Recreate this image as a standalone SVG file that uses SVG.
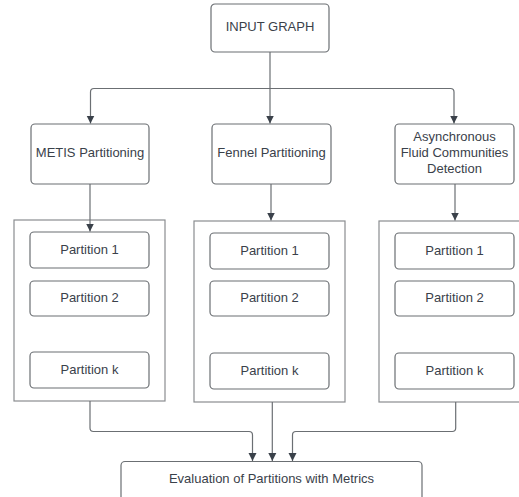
<svg xmlns="http://www.w3.org/2000/svg" width="519" height="497" viewBox="0 0 519 497">
<defs>
<style>
.box{fill:#fff;stroke:#6b6f73;stroke-width:1.2}
.cont{fill:#fff;stroke:#8a8d90;stroke-width:1.2}
.t{font-family:"Liberation Sans",Arial,sans-serif;font-size:13px;fill:#3a414a;text-anchor:middle;dominant-baseline:central}
.c{fill:none;stroke:#6b6f73;stroke-width:1.2}
</style>
<marker id="ah" viewBox="0 0 8 10" refX="8" refY="5" markerWidth="8" markerHeight="10" markerUnits="userSpaceOnUse" orient="auto">
<path d="M0,1 L8,5 L0,9 Z" fill="#3a414a"/>
</marker>
</defs>
<rect width="519" height="497" fill="#fff"/>
<g id="input">
<rect class="box" x="211" y="4" width="118" height="48" rx="4"/>
<text class="t" x="270" y="26">INPUT GRAPH</text>
</g>
<g id="metis">
<rect class="box" x="31" y="124" width="118" height="60" rx="4"/>
<text class="t" x="90" y="152">METIS Partitioning</text>
</g>
<g id="fennel">
<rect class="box" x="212" y="124" width="119" height="60" rx="4"/>
<text class="t" x="271.5" y="152">Fennel Partitioning</text>
</g>
<g id="async">
<rect class="box" x="395" y="124" width="119" height="60" rx="4"/>
<text class="t" x="454.5" y="136.5">Asynchronous</text>
<text class="t" x="454.5" y="152.5">Fluid Communities</text>
<text class="t" x="454.5" y="168.5">Detection</text>
</g>
<g id="metis-parts">
<rect class="cont" x="14" y="220" width="151" height="181"/>
<rect class="box" x="30" y="232" width="119" height="36" rx="4"/>
<text class="t" x="89.5" y="249">Partition 1</text>
<rect class="box" x="30" y="281" width="119" height="35" rx="4"/>
<text class="t" x="89.5" y="297">Partition 2</text>
<rect class="box" x="30" y="352" width="119" height="36" rx="4"/>
<text class="t" x="89.5" y="369">Partition k</text>
</g>
<g id="fennel-parts">
<rect class="cont" x="194" y="221" width="151" height="181"/>
<rect class="box" x="210" y="233" width="119" height="36" rx="4"/>
<text class="t" x="269.5" y="250">Partition 1</text>
<rect class="box" x="210" y="281" width="119" height="35" rx="4"/>
<text class="t" x="269.5" y="297.5">Partition 2</text>
<rect class="box" x="210" y="353" width="119" height="36" rx="4"/>
<text class="t" x="269.5" y="370">Partition k</text>
</g>
<g id="async-parts">
<rect class="cont" x="379" y="221" width="151" height="181"/>
<rect class="box" x="395" y="233" width="119" height="36" rx="4"/>
<text class="t" x="454.5" y="250">Partition 1</text>
<rect class="box" x="395" y="281" width="119" height="35" rx="4"/>
<text class="t" x="454.5" y="297.5">Partition 2</text>
<rect class="box" x="395" y="353" width="119" height="36" rx="4"/>
<text class="t" x="454.5" y="370">Partition k</text>
</g>
<g id="evaluation">
<rect class="box" x="121" y="461.5" width="301" height="45" rx="4"/>
<text class="t" x="271.5" y="478.5">Evaluation of Partitions with Metrics</text>
</g>
<g id="connectors">
<path class="c" d="M270,52 V123.5" marker-end="url(#ah)"/>
<path class="c" d="M270,88.5 H94 Q90.5,88.5 90.5,92 V123.5" marker-end="url(#ah)"/>
<path class="c" d="M270,88.5 H450.5 Q454,88.5 454,92 V123.5" marker-end="url(#ah)"/>
<path class="c" d="M90,184 V231.5" marker-end="url(#ah)"/>
<path class="c" d="M271,184 V220.5" marker-end="url(#ah)"/>
<path class="c" d="M455,184 V220.5" marker-end="url(#ah)"/>
<path class="c" d="M90,401 V428 Q90,431.5 93.5,431.5 H249 Q252.5,431.5 252.5,435 V461" marker-end="url(#ah)"/>
<path class="c" d="M272.3,402 V461" marker-end="url(#ah)"/>
<path class="c" d="M455.7,402 V428 Q455.7,431.5 452.2,431.5 H296 Q292.5,431.5 292.5,435 V461" marker-end="url(#ah)"/>
</g>
</svg>
